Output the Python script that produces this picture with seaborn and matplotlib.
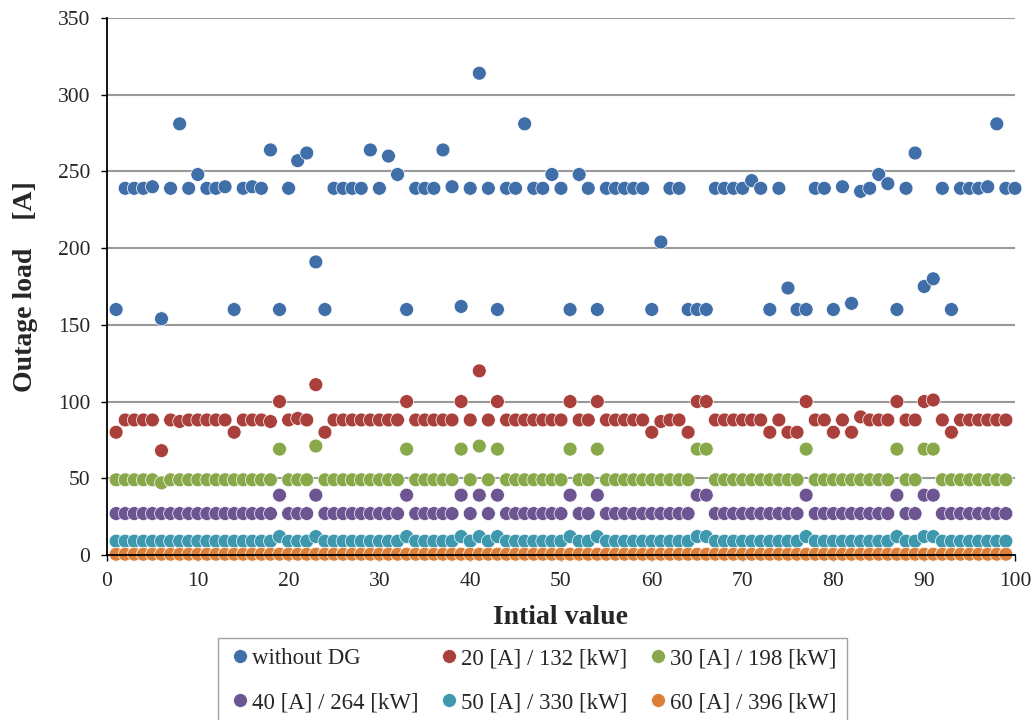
import pandas as pd
import seaborn as sns
import matplotlib.pyplot as plt

# series (x = 1, 2, 3, ...)
series_names = ["without DG", "20 [A] / 132 [kW]", "30 [A] / 198 [kW]",
                "40 [A] / 264 [kW]", "50 [A] / 330 [kW]", "60 [A] / 396 [kW]"]
colors = ["#3F6EA8", "#A9403C", "#88A84A", "#6C5591", "#3E98AE", "#DC7F38"]

without_dg = [160, 239, 239, 239, 240, 154, 239, 281, 239, 248,
              239, 239, 240, 160, 239, 240, 239, 264, 160, 239,
              257, 262, 191, 160, 239, 239, 239, 239, 264, 239,
              260, 248, 160, 239, 239, 239, 264, 240, 162, 239,
              314, 239, 160, 239, 239, 281, 239, 239, 248, 239,
              160, 248, 239, 160, 239, 239, 239, 239, 239, 160,
              204, 239, 239, 160, 160, 160, 239, 239, 239, 239,
              244, 239, 160, 239, 174, 160, 160, 239, 239, 160,
              240, 164, 237, 239, 248, 242, 160, 239, 262, 175,
              180, 239, 160, 239, 239, 239, 240, 281, 239, 239]

dg_20 = [80, 88, 88, 88, 88, 68, 88, 87, 88, 88,
         88, 88, 88, 80, 88, 88, 88, 87, 100, 88,
         89, 88, 111, 80, 88, 88, 88, 88, 88, 88,
         88, 88, 100, 88, 88, 88, 88, 88, 100, 88,
         120, 88, 100, 88, 88, 88, 88, 88, 88, 88,
         100, 88, 88, 100, 88, 88, 88, 88, 88, 80,
         87, 88, 88, 80, 100, 100, 88, 88, 88, 88,
         88, 88, 80, 88, 80, 80, 100, 88, 88, 80,
         88, 80, 90, 88, 88, 88, 100, 88, 88, 100,
         101, 88, 80, 88, 88, 88, 88, 88, 88]

dg_30 = [49, 49, 49, 49, 49, 47, 49, 49, 49, 49,
         49, 49, 49, 49, 49, 49, 49, 49, 69, 49,
         49, 49, 71, 49, 49, 49, 49, 49, 49, 49,
         49, 49, 69, 49, 49, 49, 49, 49, 69, 49,
         71, 49, 69, 49, 49, 49, 49, 49, 49, 49,
         69, 49, 49, 69, 49, 49, 49, 49, 49, 49,
         49, 49, 49, 49, 69, 69, 49, 49, 49, 49,
         49, 49, 49, 49, 49, 49, 69, 49, 49, 49,
         49, 49, 49, 49, 49, 49, 69, 49, 49, 69,
         69, 49, 49, 49, 49, 49, 49, 49, 49]

dg_40 = [27, 27, 27, 27, 27, 27, 27, 27, 27, 27,
         27, 27, 27, 27, 27, 27, 27, 27, 39, 27,
         27, 27, 39, 27, 27, 27, 27, 27, 27, 27,
         27, 27, 39, 27, 27, 27, 27, 27, 39, 27,
         39, 27, 39, 27, 27, 27, 27, 27, 27, 27,
         39, 27, 27, 39, 27, 27, 27, 27, 27, 27,
         27, 27, 27, 27, 39, 39, 27, 27, 27, 27,
         27, 27, 27, 27, 27, 27, 39, 27, 27, 27,
         27, 27, 27, 27, 27, 27, 39, 27, 27, 39,
         39, 27, 27, 27, 27, 27, 27, 27, 27]

dg_50 = [9, 9, 9, 9, 9, 9, 9, 9, 9, 9,
         9, 9, 9, 9, 9, 9, 9, 9, 12, 9,
         9, 9, 12, 9, 9, 9, 9, 9, 9, 9,
         9, 9, 12, 9, 9, 9, 9, 9, 12, 9,
         12, 9, 12, 9, 9, 9, 9, 9, 9, 9,
         12, 9, 9, 12, 9, 9, 9, 9, 9, 9,
         9, 9, 9, 9, 12, 12, 9, 9, 9, 9,
         9, 9, 9, 9, 9, 9, 12, 9, 9, 9,
         9, 9, 9, 9, 9, 9, 12, 9, 9, 12,
         12, 9, 9, 9, 9, 9, 9, 9, 9]

dg_60 = [0.5, 0.5, 0.5, 0.5, 0.5, 0.5, 0.5, 0.5, 0.5, 0.5,
         0.5, 0.5, 0.5, 0.5, 0.5, 0.5, 0.5, 0.5, 0.5, 0.5,
         0.5, 0.5, 0.5, 0.5, 0.5, 0.5, 0.5, 0.5, 0.5, 0.5,
         0.5, 0.5, 0.5, 0.5, 0.5, 0.5, 0.5, 0.5, 0.5, 0.5,
         0.5, 0.5, 0.5, 0.5, 0.5, 0.5, 0.5, 0.5, 0.5, 0.5,
         0.5, 0.5, 0.5, 0.5, 0.5, 0.5, 0.5, 0.5, 0.5, 0.5,
         0.5, 0.5, 0.5, 0.5, 0.5, 0.5, 0.5, 0.5, 0.5, 0.5,
         0.5, 0.5, 0.5, 0.5, 0.5, 0.5, 0.5, 0.5, 0.5, 0.5,
         0.5, 0.5, 0.5, 0.5, 0.5, 0.5, 0.5, 0.5, 0.5, 0.5,
         0.5, 0.5, 0.5, 0.5, 0.5, 0.5, 0.5, 0.5, 0.5]

all_series = [without_dg, dg_20, dg_30, dg_40, dg_50, dg_60]
frames = []
for name, vals in zip(series_names, all_series):
    frames.append(pd.DataFrame({"x": range(1, len(vals) + 1), "load": vals, "series": name}))
df = pd.concat(frames, ignore_index=True)

sns.set_style("white")
plt.rcParams['font.family'] = ['Liberation Serif', 'DejaVu Serif']

fig = plt.figure(figsize=(10.36, 7.2), dpi=100)
ax = fig.add_axes([0.1033, 0.2292, 0.8764, 0.7458])
sns.scatterplot(data=df, x="x", y="load", hue="series", hue_order=series_names,
                palette=colors, s=100, linewidth=0.5, edgecolor="white", ax=ax)
for c in ax.collections:
    c.set_clip_on(False)

ax.set_xlim(0, 100)
ax.set_ylim(0, 350)
ax.set_xticks(range(0, 101, 10))
ax.set_yticks(range(0, 351, 50))
ax.yaxis.grid(True, color="#999999", linewidth=1.5)
ax.xaxis.grid(False)
ax.set_axisbelow(True)
for s in ["top", "right"]:
    ax.spines[s].set_visible(False)
for s in ["left", "bottom"]:
    ax.spines[s].set_color("black")
    ax.spines[s].set_linewidth(1.3)
ax.tick_params(axis="both", which="major", bottom=True, left=True, direction="out",
               length=4, width=1, color="black", labelsize=15.5, pad=8)
ax.set_xlabel("Intial value", fontsize=20, fontweight="bold", labelpad=10)
ax.set_ylabel("Outage load    [A]", fontsize=20, fontweight="bold", labelpad=14)

handles, labels = ax.get_legend_handles_labels()
ax.get_legend().remove()
order = [0, 3, 1, 4, 2, 5]
fig.legend([handles[i] for i in order], [labels[i] for i in order], ncol=3,
           loc="upper center", bbox_to_anchor=(0.514, 0.13), frameon=True,
           fancybox=False, edgecolor="#8c8c8c", fontsize=16.5, handletextpad=0.05,
           columnspacing=0.8, labelspacing=1.0, borderpad=0.45, handlelength=1.0,
           markerscale=1.0)

fig.savefig("out.png", dpi=100)
